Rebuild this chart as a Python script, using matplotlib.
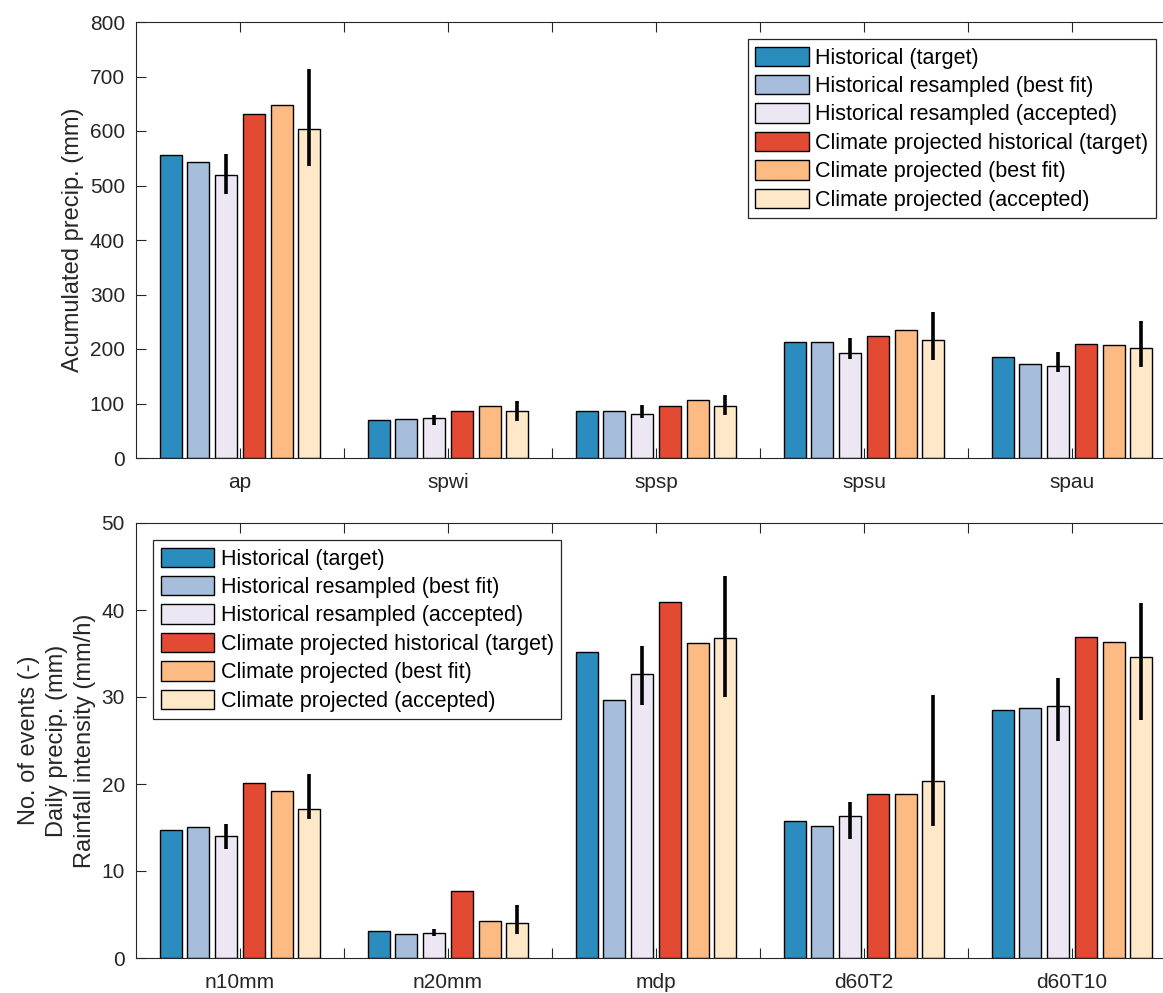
import matplotlib
matplotlib.use('Agg')
import matplotlib.pyplot as plt
import numpy as np

plt.rcParams['font.family'] = ['Liberation Sans', 'DejaVu Sans']

# categories
cats_top = ['ap', 'spwi', 'spsp', 'spsu', 'spau']
cats_bot = ['n10mm', 'n20mm', 'mdp', 'd60T2', 'd60T10']

series_names = ['Historical (target)', 'Historical resampled (best fit)',
                'Historical resampled (accepted)', 'Climate projected historical (target)',
                'Climate projected (best fit)', 'Climate projected (accepted)']
colors = ['#2b8cbe', '#a6bddb', '#ece7f2', '#e34a33', '#fdbb84', '#fee8c8']

# top panel: accumulated precipitation (mm)
hist_target_top = [556, 69, 86, 212, 185]
hist_best_top = [544, 71.6, 86, 212, 172.5]
hist_acc_top = [520, 74, 81, 192, 169.4]
clim_target_top = [632, 86, 96, 224, 210]
clim_best_top = [648, 95.4, 106, 234, 207]
clim_acc_top = [604, 86, 96, 216.5, 202]
hist_acc_lo_top = [484, 61, 74, 181, 157]
hist_acc_hi_top = [558, 79, 98, 221, 195]
clim_acc_lo_top = [535, 68.5, 78, 179, 167]
clim_acc_hi_top = [713, 104, 116, 267, 251]

# bottom panel: events / daily precip / intensity
hist_target_bot = [14.77, 3.06, 35.2, 15.7, 28.46]
hist_best_bot = [15.07, 2.75, 29.7, 15.2, 28.77]
hist_acc_bot = [14.0, 2.9, 32.6, 16.3, 28.92]
clim_target_bot = [20.16, 7.69, 40.9, 18.8, 36.95]
clim_best_bot = [19.24, 4.28, 36.15, 18.8, 36.34]
clim_acc_bot = [17.1, 4.0, 36.76, 20.3, 34.6]
hist_acc_lo_bot = [12.5, 2.49, 29.1, 13.7, 24.9]
hist_acc_hi_bot = [15.4, 3.33, 35.9, 17.9, 32.2]
clim_acc_lo_bot = [15.95, 2.72, 29.95, 15.2, 27.4]
clim_acc_hi_bot = [21.2, 6.08, 43.9, 30.2, 40.8]

W, H = 1163, 993
fig = plt.figure(figsize=(W / 100, H / 100), dpi=100)
fig.patch.set_facecolor('white')

axis_col = '#262626'
fs_tick = 15
fs_leg = 15.5
fs_lab = 17


def make_axes(top_px, bot_px):
    # right edge lies past the picture: the reference is cropped there
    left_px, right_px = 136, 1176
    return fig.add_axes([left_px / W, 1 - bot_px / H, (right_px - left_px) / W, (bot_px - top_px) / H])


def draw_panel(ax, cats, vals, errs, ymax, ystep):
    n = len(vals)
    x = np.arange(1, len(cats) + 1)
    step = 0.8 / n
    width = step * 0.8
    for i, (v, c) in enumerate(zip(vals, colors)):
        ax.bar(x + (i - (n - 1) / 2) * step, v, width, color=c, edgecolor='black',
               linewidth=1.0, label=series_names[i], zorder=2)
    for i, (lo, hi) in errs.items():
        xs = x + (i - (n - 1) / 2) * step
        ax.vlines(xs, lo, hi, colors='black', linewidth=2.6, zorder=3)
    ax.set_xlim(0.5, 5.5)
    ax.set_ylim(0, ymax)
    ax.set_yticks(np.arange(0, ymax + 1, ystep))
    ticks = np.arange(1, 5.51, 0.5)
    ax.set_xticks(ticks)
    ax.set_xticklabels([cats[int(t) - 1] if t == int(t) else '' for t in ticks])
    ax.tick_params(direction='in', top=True, right=True, length=7, width=0.8,
                   colors=axis_col, labelsize=fs_tick)
    ax.tick_params(axis='x', pad=11)
    ax.tick_params(axis='y', pad=8)
    for s in ax.spines.values():
        s.set_color(axis_col)
        s.set_linewidth(0.8)


ax1 = make_axes(22, 458)
draw_panel(ax1, cats_top,
           [hist_target_top, hist_best_top, hist_acc_top, clim_target_top, clim_best_top, clim_acc_top],
           {2: (hist_acc_lo_top, hist_acc_hi_top), 5: (clim_acc_lo_top, clim_acc_hi_top)},
           800, 100)
ax1.set_ylabel('Acumulated precip. (mm)', fontsize=fs_lab, color=axis_col)
ax1.yaxis.set_label_coords((84 - 136) / 1040, 0.5)

ax2 = make_axes(523, 958)
draw_panel(ax2, cats_bot,
           [hist_target_bot, hist_best_bot, hist_acc_bot, clim_target_bot, clim_best_bot, clim_acc_bot],
           {2: (hist_acc_lo_bot, hist_acc_hi_bot), 5: (clim_acc_lo_bot, clim_acc_hi_bot)},
           50, 10)
ax2.set_ylabel('No. of events (-)\nDaily precip. (mm)\nRainfall intensity (mm/h)',
               fontsize=fs_lab, color=axis_col, linespacing=1.35)
ax2.yaxis.set_label_coords((96 - 136) / 1040, 0.5)

leg_kw = dict(fontsize=fs_leg, frameon=True, fancybox=False, framealpha=1,
              edgecolor=axis_col, handlelength=2.5, handleheight=1.0,
              handletextpad=0.3, labelspacing=0.3, borderpad=0.35, borderaxespad=0)

leg1 = ax1.legend(loc='upper right', bbox_to_anchor=((1156 - 136) / 1040, (458 - 39) / 436), **leg_kw)
leg2 = ax2.legend(loc='upper left', bbox_to_anchor=((153 - 136) / 1040, (958 - 540) / 435), **leg_kw)
for leg in (leg1, leg2):
    leg.get_frame().set_linewidth(0.9)

fig.savefig('out.png', dpi=100)
